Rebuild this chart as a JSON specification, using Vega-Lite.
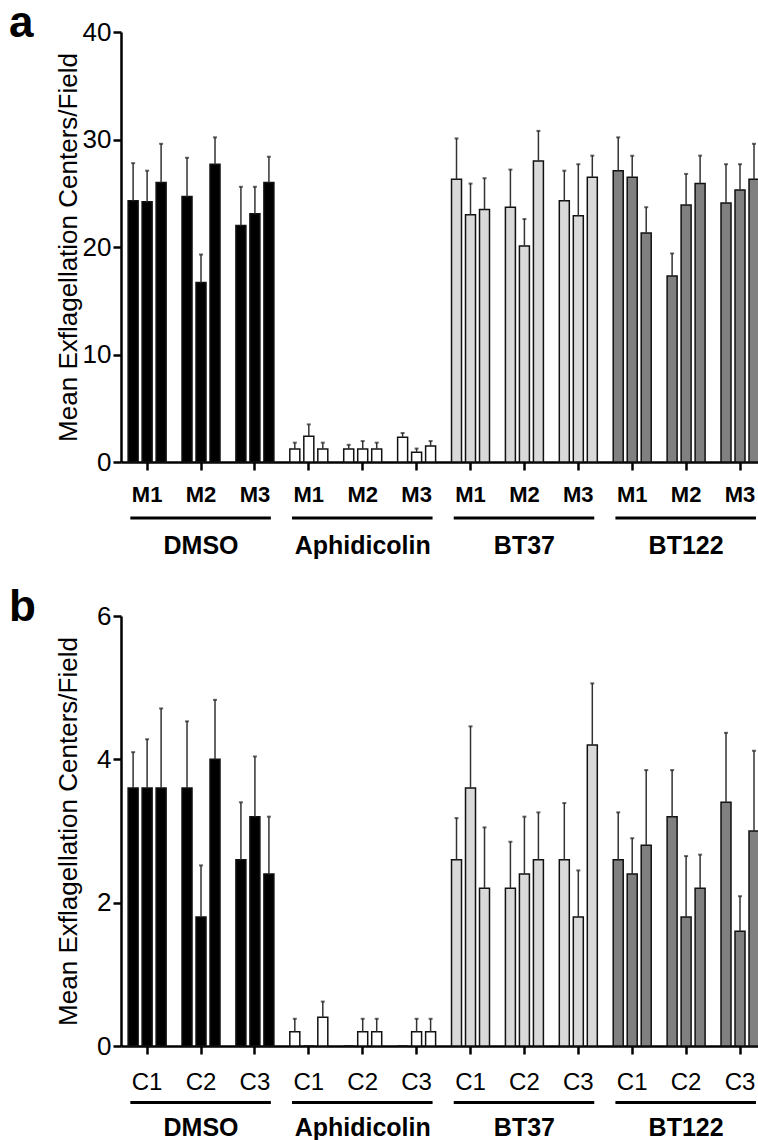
{
  "$schema": "https://vega.github.io/schema/vega-lite/v6.json",
  "padding": {"left": 8, "top": 2, "right": 0, "bottom": 0},
  "background": "white",
  "config": {
    "font": "Liberation Sans",
    "view": {"stroke": null},
    "axis": {"grid": false, "domainColor": "#000", "domainWidth": 2.5, "tickColor": "#000", "tickWidth": 2.5, "labelColor": "#000", "titleColor": "#000"},
    "title": {"color": "#000"}
  },
  "datasets": {
    "a": [
      {"t": "DMSO", "g": "DMSO M1", "r": 1, "v": 24.3, "hi": 27.8},
      {"t": "DMSO", "g": "DMSO M1", "r": 2, "v": 24.2, "hi": 27.1},
      {"t": "DMSO", "g": "DMSO M1", "r": 3, "v": 26.0, "hi": 29.6},
      {"t": "DMSO", "g": "DMSO M2", "r": 1, "v": 24.7, "hi": 28.3},
      {"t": "DMSO", "g": "DMSO M2", "r": 2, "v": 16.7, "hi": 19.3},
      {"t": "DMSO", "g": "DMSO M2", "r": 3, "v": 27.7, "hi": 30.2},
      {"t": "DMSO", "g": "DMSO M3", "r": 1, "v": 22.0, "hi": 25.6},
      {"t": "DMSO", "g": "DMSO M3", "r": 2, "v": 23.1, "hi": 25.6},
      {"t": "DMSO", "g": "DMSO M3", "r": 3, "v": 26.0, "hi": 28.4},
      {"t": "Aphidicolin", "g": "Aphidicolin M1", "r": 1, "v": 1.2, "hi": 1.8},
      {"t": "Aphidicolin", "g": "Aphidicolin M1", "r": 2, "v": 2.4, "hi": 3.5},
      {"t": "Aphidicolin", "g": "Aphidicolin M1", "r": 3, "v": 1.2, "hi": 1.8},
      {"t": "Aphidicolin", "g": "Aphidicolin M2", "r": 1, "v": 1.2, "hi": 1.6},
      {"t": "Aphidicolin", "g": "Aphidicolin M2", "r": 2, "v": 1.2, "hi": 1.95},
      {"t": "Aphidicolin", "g": "Aphidicolin M2", "r": 3, "v": 1.2, "hi": 1.8},
      {"t": "Aphidicolin", "g": "Aphidicolin M3", "r": 1, "v": 2.3, "hi": 2.7},
      {"t": "Aphidicolin", "g": "Aphidicolin M3", "r": 2, "v": 0.9, "hi": 1.25},
      {"t": "Aphidicolin", "g": "Aphidicolin M3", "r": 3, "v": 1.5, "hi": 1.95},
      {"t": "BT37", "g": "BT37 M1", "r": 1, "v": 26.3, "hi": 30.1},
      {"t": "BT37", "g": "BT37 M1", "r": 2, "v": 23.0, "hi": 25.9},
      {"t": "BT37", "g": "BT37 M1", "r": 3, "v": 23.5, "hi": 26.4},
      {"t": "BT37", "g": "BT37 M2", "r": 1, "v": 23.7, "hi": 27.2},
      {"t": "BT37", "g": "BT37 M2", "r": 2, "v": 20.1, "hi": 22.6},
      {"t": "BT37", "g": "BT37 M2", "r": 3, "v": 28.0, "hi": 30.8},
      {"t": "BT37", "g": "BT37 M3", "r": 1, "v": 24.3, "hi": 27.1},
      {"t": "BT37", "g": "BT37 M3", "r": 2, "v": 22.9, "hi": 27.7},
      {"t": "BT37", "g": "BT37 M3", "r": 3, "v": 26.5, "hi": 28.5},
      {"t": "BT122", "g": "BT122 M1", "r": 1, "v": 27.1, "hi": 30.2},
      {"t": "BT122", "g": "BT122 M1", "r": 2, "v": 26.5, "hi": 28.5},
      {"t": "BT122", "g": "BT122 M1", "r": 3, "v": 21.3, "hi": 23.7},
      {"t": "BT122", "g": "BT122 M2", "r": 1, "v": 17.3, "hi": 19.4},
      {"t": "BT122", "g": "BT122 M2", "r": 2, "v": 23.9, "hi": 26.8},
      {"t": "BT122", "g": "BT122 M2", "r": 3, "v": 25.9, "hi": 28.5},
      {"t": "BT122", "g": "BT122 M3", "r": 1, "v": 24.1, "hi": 27.7},
      {"t": "BT122", "g": "BT122 M3", "r": 2, "v": 25.3, "hi": 27.7},
      {"t": "BT122", "g": "BT122 M3", "r": 3, "v": 26.3, "hi": 29.6}
    ],
    "b": [
      {"t": "DMSO", "g": "DMSO C1", "r": 1, "v": 3.6, "hi": 4.1},
      {"t": "DMSO", "g": "DMSO C1", "r": 2, "v": 3.6, "hi": 4.28},
      {"t": "DMSO", "g": "DMSO C1", "r": 3, "v": 3.6, "hi": 4.71},
      {"t": "DMSO", "g": "DMSO C2", "r": 1, "v": 3.6, "hi": 4.53},
      {"t": "DMSO", "g": "DMSO C2", "r": 2, "v": 1.8, "hi": 2.52},
      {"t": "DMSO", "g": "DMSO C2", "r": 3, "v": 4.0, "hi": 4.83},
      {"t": "DMSO", "g": "DMSO C3", "r": 1, "v": 2.6, "hi": 3.4},
      {"t": "DMSO", "g": "DMSO C3", "r": 2, "v": 3.2, "hi": 4.04},
      {"t": "DMSO", "g": "DMSO C3", "r": 3, "v": 2.4, "hi": 3.2},
      {"t": "Aphidicolin", "g": "Aphidicolin C1", "r": 1, "v": 0.2, "hi": 0.38},
      {"t": "Aphidicolin", "g": "Aphidicolin C1", "r": 2, "v": 0, "hi": null},
      {"t": "Aphidicolin", "g": "Aphidicolin C1", "r": 3, "v": 0.4, "hi": 0.62},
      {"t": "Aphidicolin", "g": "Aphidicolin C2", "r": 1, "v": 0, "hi": null},
      {"t": "Aphidicolin", "g": "Aphidicolin C2", "r": 2, "v": 0.2, "hi": 0.38},
      {"t": "Aphidicolin", "g": "Aphidicolin C2", "r": 3, "v": 0.2, "hi": 0.38},
      {"t": "Aphidicolin", "g": "Aphidicolin C3", "r": 1, "v": 0, "hi": null},
      {"t": "Aphidicolin", "g": "Aphidicolin C3", "r": 2, "v": 0.2, "hi": 0.38},
      {"t": "Aphidicolin", "g": "Aphidicolin C3", "r": 3, "v": 0.2, "hi": 0.38},
      {"t": "BT37", "g": "BT37 C1", "r": 1, "v": 2.6, "hi": 3.18},
      {"t": "BT37", "g": "BT37 C1", "r": 2, "v": 3.6, "hi": 4.46},
      {"t": "BT37", "g": "BT37 C1", "r": 3, "v": 2.2, "hi": 3.05},
      {"t": "BT37", "g": "BT37 C2", "r": 1, "v": 2.2, "hi": 2.85},
      {"t": "BT37", "g": "BT37 C2", "r": 2, "v": 2.4, "hi": 3.2},
      {"t": "BT37", "g": "BT37 C2", "r": 3, "v": 2.6, "hi": 3.26},
      {"t": "BT37", "g": "BT37 C3", "r": 1, "v": 2.6, "hi": 3.39},
      {"t": "BT37", "g": "BT37 C3", "r": 2, "v": 1.8, "hi": 2.45},
      {"t": "BT37", "g": "BT37 C3", "r": 3, "v": 4.2, "hi": 5.06},
      {"t": "BT122", "g": "BT122 C1", "r": 1, "v": 2.6, "hi": 3.26},
      {"t": "BT122", "g": "BT122 C1", "r": 2, "v": 2.4, "hi": 2.9},
      {"t": "BT122", "g": "BT122 C1", "r": 3, "v": 2.8, "hi": 3.85},
      {"t": "BT122", "g": "BT122 C2", "r": 1, "v": 3.2, "hi": 3.85},
      {"t": "BT122", "g": "BT122 C2", "r": 2, "v": 1.8, "hi": 2.65},
      {"t": "BT122", "g": "BT122 C2", "r": 3, "v": 2.2, "hi": 2.67},
      {"t": "BT122", "g": "BT122 C3", "r": 1, "v": 3.4, "hi": 4.37},
      {"t": "BT122", "g": "BT122 C3", "r": 2, "v": 1.6, "hi": 2.09},
      {"t": "BT122", "g": "BT122 C3", "r": 3, "v": 3.0, "hi": 4.12}
    ],
    "ta": [
      {"t": "DMSO", "first": "DMSO M1", "mid": "DMSO M2", "last": "DMSO M3"},
      {"t": "Aphidicolin", "first": "Aphidicolin M1", "mid": "Aphidicolin M2", "last": "Aphidicolin M3"},
      {"t": "BT37", "first": "BT37 M1", "mid": "BT37 M2", "last": "BT37 M3"},
      {"t": "BT122", "first": "BT122 M1", "mid": "BT122 M2", "last": "BT122 M3"}
    ],
    "tb": [
      {"t": "DMSO", "first": "DMSO C1", "mid": "DMSO C2", "last": "DMSO C3"},
      {"t": "Aphidicolin", "first": "Aphidicolin C1", "mid": "Aphidicolin C2", "last": "Aphidicolin C3"},
      {"t": "BT37", "first": "BT37 C1", "mid": "BT37 C2", "last": "BT37 C3"},
      {"t": "BT122", "first": "BT122 C1", "mid": "BT122 C2", "last": "BT122 C3"}
    ]
  },
  "spacing": 27,
  "vconcat": [
    {
      "width": 640,
      "height": 430,
      "title": {"text": "a", "anchor": "start", "frame": "bounds", "fontSize": 44, "fontWeight": "bold", "offset": -62, "dx": -46, "baseline": "alphabetic"},
      "layer": [
        {
          "data": {"name": "a"},
          "mark": {"type": "bar", "stroke": "#111", "strokeWidth": 1.5},
          "encoding": {
            "x": {"field": "g", "type": "nominal", "scale": {"domain": ["DMSO M1","DMSO M2","DMSO M3","Aphidicolin M1","Aphidicolin M2","Aphidicolin M3","BT37 M1","BT37 M2","BT37 M3","BT122 M1","BT122 M2","BT122 M3"], "paddingInner": 0.221, "paddingOuter": 0.0475, "align": 1},
              "axis": {"title": null, "labelAngle": 0, "labelExpr": "split(datum.value, ' ')[1]", "labelFontSize": 22, "labelFontWeight": "bold", "tickSize": 8, "labelPadding": 14}},
            "xOffset": {"field": "r", "type": "nominal", "scale": {"paddingInner": 0.286, "paddingOuter": 0.143}},
            "y": {"field": "v", "type": "quantitative", "scale": {"domain": [0, 40], "nice": false},
              "axis": {"title": "Mean Exflagellation Centers/Field", "values": [0, 10, 20, 30, 40], "format": "d", "labelFontSize": 26, "tickSize": 8, "labelPadding": 2, "titleFontSize": 26, "titleFontWeight": "normal", "titleX": -45, "titleY": 215, "titleBaseline": "alphabetic"}},
            "fill": {"field": "t", "type": "nominal", "scale": {"domain": ["DMSO","Aphidicolin","BT37","BT122"], "range": ["#000000","#ffffff","#d9d9d9","#808080"]}, "legend": null}
          }
        },
        {
          "data": {"name": "a"},
          "mark": {"type": "rule", "color": "#333", "strokeWidth": 1.5},
          "encoding": {
            "x": {"field": "g", "type": "nominal"},
            "xOffset": {"field": "r", "type": "nominal"},
            "y": {"field": "v", "type": "quantitative"},
            "y2": {"field": "hi"}
          }
        },
        {
          "data": {"name": "a"},
          "mark": {"type": "tick", "color": "#222", "thickness": 2, "size": 4},
          "encoding": {
            "x": {"field": "g", "type": "nominal"},
            "xOffset": {"field": "r", "type": "nominal"},
            "y": {"field": "hi", "type": "quantitative"}
          }
        },
        {
          "data": {"name": "ta"},
          "mark": {"type": "rule", "color": "#000", "strokeWidth": 3},
          "encoding": {
            "x": {"field": "first", "type": "nominal", "bandPosition": 0.1},
            "x2": {"field": "last", "bandPosition": 0.88},
            "y": {"datum": -5.21}
          }
        },
        {
          "data": {"name": "ta"},
          "mark": {"type": "text", "fontSize": 25, "fontWeight": "bold", "baseline": "middle", "align": "center", "color": "#000"},
          "encoding": {
            "x": {"field": "mid", "type": "nominal"},
            "y": {"datum": -7.8},
            "text": {"field": "t"}
          }
        }
      ]
    },
    {
      "width": 640,
      "height": 430,
      "title": {"text": "b", "anchor": "start", "frame": "bounds", "fontSize": 44, "fontWeight": "bold", "offset": -62, "dx": -46, "baseline": "alphabetic"},
      "layer": [
        {
          "data": {"name": "b"},
          "mark": {"type": "bar", "stroke": "#111", "strokeWidth": 1.5},
          "encoding": {
            "x": {"field": "g", "type": "nominal", "scale": {"domain": ["DMSO C1","DMSO C2","DMSO C3","Aphidicolin C1","Aphidicolin C2","Aphidicolin C3","BT37 C1","BT37 C2","BT37 C3","BT122 C1","BT122 C2","BT122 C3"], "paddingInner": 0.221, "paddingOuter": 0.0475, "align": 1},
              "axis": {"title": null, "labelAngle": 0, "labelExpr": "split(datum.value, ' ')[1]", "labelFontSize": 24, "labelFontWeight": "normal", "tickSize": 8, "labelPadding": 16}},
            "xOffset": {"field": "r", "type": "nominal", "scale": {"paddingInner": 0.286, "paddingOuter": 0.143}},
            "y": {"field": "v", "type": "quantitative", "scale": {"domain": [0, 6], "nice": false},
              "axis": {"title": "Mean Exflagellation Centers/Field", "values": [0, 2, 4, 6], "format": "d", "labelFontSize": 26, "tickSize": 8, "labelPadding": 2, "titleFontSize": 26, "titleFontWeight": "normal", "titleX": -45, "titleY": 215, "titleBaseline": "alphabetic"}},
            "fill": {"field": "t", "type": "nominal", "scale": {"domain": ["DMSO","Aphidicolin","BT37","BT122"], "range": ["#000000","#ffffff","#d9d9d9","#808080"]}, "legend": null}
          }
        },
        {
          "data": {"name": "b"},
          "transform": [{"filter": "datum.hi != null"}],
          "mark": {"type": "rule", "color": "#333", "strokeWidth": 1.5},
          "encoding": {
            "x": {"field": "g", "type": "nominal"},
            "xOffset": {"field": "r", "type": "nominal"},
            "y": {"field": "v", "type": "quantitative"},
            "y2": {"field": "hi"}
          }
        },
        {
          "data": {"name": "b"},
          "transform": [{"filter": "datum.hi != null"}],
          "mark": {"type": "tick", "color": "#222", "thickness": 2, "size": 4},
          "encoding": {
            "x": {"field": "g", "type": "nominal"},
            "xOffset": {"field": "r", "type": "nominal"},
            "y": {"field": "hi", "type": "quantitative"}
          }
        },
        {
          "data": {"name": "tb"},
          "mark": {"type": "rule", "color": "#000", "strokeWidth": 3},
          "encoding": {
            "x": {"field": "first", "type": "nominal", "bandPosition": 0.1},
            "x2": {"field": "last", "bandPosition": 0.88},
            "y": {"datum": -0.79}
          }
        },
        {
          "data": {"name": "tb"},
          "mark": {"type": "text", "fontSize": 25, "fontWeight": "bold", "baseline": "middle", "align": "center", "color": "#000"},
          "encoding": {
            "x": {"field": "mid", "type": "nominal"},
            "y": {"datum": -1.15},
            "text": {"field": "t"}
          }
        }
      ]
    }
  ]
}
